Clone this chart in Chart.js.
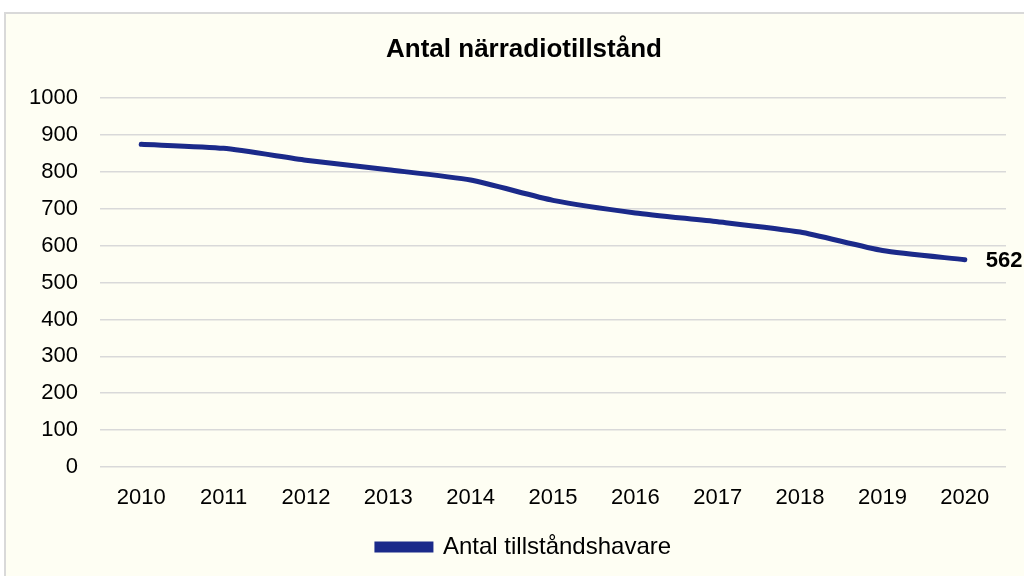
<!DOCTYPE html>
<html>
<head>
<meta charset="utf-8">
<script src="https://cdn.jsdelivr.net/npm/chart.js@4"></script>
<style>
  html, body { margin: 0; padding: 0; background: #ffffff; overflow: hidden; width: 1024px; height: 576px; }
  #frame { position: absolute; left: 4px; top: 12px; width: 1100px; height: 620px; border: 2px solid #d9d9d9; background: #fefef3; }
  #chart { position: absolute; left: 0; top: 0; }
</style>
</head>
<body>
<div id="frame"><canvas id="chart" width="1036" height="562"></canvas></div>
<script>
const years = ["2010", "2011", "2012", "2013", "2014", "2015", "2016", "2017", "2018", "2019", "2020"];
const tillstandshavare = [875, 864, 832, 806, 778, 723, 689, 665, 637, 587, 562];
const seriesName = "Antal tillståndshavare";
const chartTitle = "Antal närradiotillstånd";
const lineColor = "#1b2a8a";

// label on the last point, like the Excel data label
const lastLabel = {
  id: "lastLabel",
  afterDatasetsDraw(chart) {
    const meta = chart.getDatasetMeta(0);
    const pt = meta.data[meta.data.length - 1];
    const ctx = chart.ctx;
    ctx.save();
    ctx.font = "bold 22px 'Liberation Sans', Arial, sans-serif";
    ctx.fillStyle = "#000";
    ctx.textBaseline = "middle";
    ctx.textAlign = "left";
    ctx.fillText(String(tillstandshavare[tillstandshavare.length - 1]), pt.x + 21, pt.y + 1);
    ctx.restore();
  },
};

Chart.defaults.font.family = "'Liberation Sans', Arial, sans-serif";
Chart.defaults.color = "#000";

new Chart(document.getElementById("chart"), {
  type: "line",
  data: {
    labels: years,
    datasets: [
      {
        label: seriesName,
        data: tillstandshavare,
        borderColor: lineColor,
        backgroundColor: lineColor,
        borderWidth: 5,
        borderCapStyle: "round",
        pointRadius: 0,
        tension: 0.2,
      },
    ],
  },
  options: {
    responsive: false,
    animation: false,
    layout: { padding: { left: 0, right: 0, top: 0, bottom: 7 } },
    plugins: {
      title: {
        display: true,
        text: chartTitle,
        font: { size: 26, weight: "bold" },
        color: "#000",
        padding: { top: 20, bottom: 33 },
      },
      legend: {
        position: "bottom",
        labels: {
          boxWidth: 54,
          boxHeight: 6,
          padding: 10,
          font: { size: 24 },
          color: "#000",
        },
      },
      tooltip: { enabled: false },
    },
    scales: {
      x: {
        offset: true,
        grid: { display: false, drawTicks: false },
        border: { display: false },
        ticks: { font: { size: 22 }, padding: 18, maxRotation: 0 },
        afterFit: (scale) => { scale.height = 58; },
      },
      y: {
        min: 0,
        max: 1000,
        ticks: {
          stepSize: 100,
          font: { size: 22 },
          padding: 22,
          callback: (v) => String(v),
        },
        grid: { color: "#d9d9d9", lineWidth: 1.5, drawTicks: false },
        border: { display: false },
        afterFit: (scale) => { scale.width = 94; },
      },
      // empty right axis, only keeps room for the end label
      yRight: {
        position: "right",
        min: 0,
        max: 1000,
        grid: { display: false, drawTicks: false },
        border: { display: false },
        ticks: { display: false },
        afterFit: (scale) => { scale.width = 36; },
      },
    },
  },
  plugins: [lastLabel],
});
</script>
</body>
</html>
